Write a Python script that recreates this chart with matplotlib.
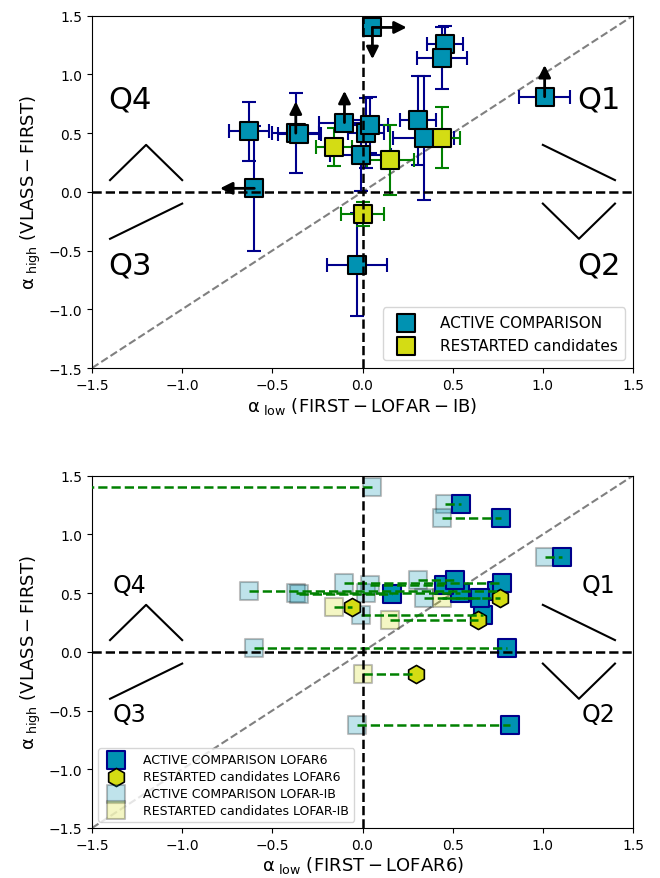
import numpy as np
import matplotlib
matplotlib.use("Agg")
import matplotlib.pyplot as plt
from matplotlib.lines import Line2D

# spectral indices, active comparison sample
act_low_ib = np.array([-0.63, -0.60, -0.37, -0.35, -0.10, -0.01, 0.02, 0.04, 0.055, 0.46, 0.44, 1.01, 0.31, 0.34, -0.03])
act_high = np.array([0.515, 0.03, 0.50, 0.49, 0.59, 0.31, 0.50, 0.57, 1.40, 1.26, 1.14, 0.81, 0.61, 0.46, -0.62])
act_xerr = np.array([0.11, 0.0, 0.13, 0.12, 0.14, 0.17, 0.10, 0.10, 0.0, 0.10, 0.14, 0.14, 0.10, 0.17, 0.165])
act_yerr = np.array([0.25, 0.53, 0.34, 0.0, 0.0, 0.30, 0.30, 0.24, 0.0, 0.15, 0.26, 0.0, 0.38, 0.53, 0.44])
act_low_l6 = np.array([0.746, 0.804, 0.539, 0.166, 0.776, 0.668, np.nan, 0.452, -1.8, 0.548, 0.77, 1.109, 0.511, 0.65, 0.816])

# restarted candidates
rst_low_ib = np.array([-0.16, 0.155, 0.44, 0.0])
rst_high = np.array([0.38, 0.27, 0.46, -0.19])
rst_xerr = np.array([0.10, 0.13, 0.10, 0.12])
rst_yerr = np.array([0.16, 0.30, 0.26, 0.10])
rst_low_l6 = np.array([-0.056, 0.64, 0.765, 0.299])

# limits: (index into active sample, dx, dy)
limits = [(1, -1, 0), (2, 0, 1), (4, 0, 1), (11, 0, 1), (8, 1, 0), (8, 0, -1)]

blue = "#0092b2"
yellow = "#d4dc14"

fig = plt.figure(figsize=(6.6, 8.79), dpi=100)
ax1 = fig.add_axes([0.1394, 0.5802, 0.8197, 0.4008])
ax2 = fig.add_axes([0.1394, 0.0569, 0.8197, 0.4008])


def quadrants(ax, fs, ypos):
    ax.plot([-1.4, -1.2, -1.0], [0.1, 0.4, 0.1], color='k', lw=1.5)
    ax.plot([-1.4, -1.0], [-0.4, -0.1], color='k', lw=1.5)
    ax.plot([1.0, 1.4], [0.4, 0.1], color='k', lw=1.5)
    ax.plot([1.0, 1.2, 1.4], [-0.1, -0.4, -0.1], color='k', lw=1.5)
    ax.text(-1.29, ypos[0], 'Q4', fontsize=fs, ha='center', va='center')
    ax.text(1.31, ypos[0], 'Q1', fontsize=fs, ha='center', va='center')
    ax.text(-1.29, ypos[1], 'Q3', fontsize=fs, ha='center', va='center')
    ax.text(1.31, ypos[1], 'Q2', fontsize=fs, ha='center', va='center')
    ax.plot([-1.5, 1.5], [-1.5, 1.5], color='gray', ls='--', lw=1.5, zorder=1)
    ax.axhline(0, color='k', ls='--', lw=1.8, zorder=6)
    ax.axvline(0, color='k', ls='--', lw=1.8, zorder=6)
    ax.set_xlim(-1.5, 1.5)
    ax.set_ylim(-1.5, 1.5)
    ax.tick_params(labelsize=10)
    ax.set_ylabel(r'$\rm \alpha_{\ high}\ (VLASS-FIRST)$', fontsize=13)


# --- top: FIRST - LOFAR-IB
ax1.errorbar(act_low_ib, act_high, xerr=act_xerr, yerr=act_yerr, fmt='none',
             ecolor='darkblue', elinewidth=1.5, capsize=5, capthick=1.5, zorder=2)
ax1.errorbar(rst_low_ib, rst_high, xerr=rst_xerr, yerr=rst_yerr, fmt='none',
             ecolor='green', elinewidth=1.5, capsize=5, capthick=1.5, zorder=2)
ax1.scatter(act_low_ib, act_high, s=150, marker='s', c=blue, edgecolors='k',
            linewidths=1.5, zorder=3, label='ACTIVE COMPARISON')
ax1.scatter(rst_low_ib, rst_high, s=150, marker='s', c=yellow, edgecolors='k',
            linewidths=1.5, zorder=4, label='RESTARTED candidates')
for i, dx, dy in limits:
    x0, y0 = act_low_ib[i], act_high[i]
    ax1.annotate('', xy=(x0 + 0.19 * dx, y0 + 0.27 * dy), xytext=(x0, y0),
                 arrowprops=dict(arrowstyle='-|>', color='k', lw=2, mutation_scale=18,
                                 shrinkA=0, shrinkB=0), zorder=5)
quadrants(ax1, 22, (0.79, -0.62))
ax1.set_xlabel(r'$\rm \alpha_{\ low}\ (FIRST-LOFAR-IB)$', fontsize=13, labelpad=2)
ax1.legend(loc='lower right', fontsize=11, handletextpad=1.2, borderpad=0.5)

# --- bottom: FIRST - LOFAR6 vs FIRST - LOFAR-IB
for xa, xb, y in zip(act_low_ib, act_low_l6, act_high):
    if not np.isnan(xb):
        ax2.plot([xa, xb], [y, y], color='green', ls='--', lw=1.8, zorder=5)
for xa, xb, y in zip(rst_low_ib, rst_low_l6, rst_high):
    ax2.plot([xa, xb], [y, y], color='green', ls='--', lw=1.8, zorder=5)
ax2.scatter(act_low_l6, act_high, s=150, marker='s', c=blue, edgecolors='darkblue',
            linewidths=1.5, zorder=3, label='ACTIVE COMPARISON LOFAR6')
ax2.scatter(rst_low_l6, rst_high, s=170, marker='h', c=yellow, edgecolors='k',
            linewidths=1.2, zorder=4, label='RESTARTED candidates LOFAR6')
ax2.scatter(act_low_ib, act_high, s=150, marker='s', c=blue, edgecolors='k',
            linewidths=1.5, alpha=0.25, zorder=2, label='ACTIVE COMPARISON LOFAR-IB')
ax2.scatter(rst_low_ib, rst_high, s=150, marker='s', c=yellow, edgecolors='k',
            linewidths=1.5, alpha=0.25, zorder=2, label='RESTARTED candidates LOFAR-IB')
quadrants(ax2, 17, (0.57, -0.53))
ax2.set_xlabel(r'$\rm \alpha_{\ low}\ (FIRST-LOFAR6)$', fontsize=13, labelpad=2)
ax2.legend(loc='lower left', fontsize=9, handletextpad=1.2, borderpad=0.4, labelspacing=0.3)

fig.savefig('out.png', dpi=100)
